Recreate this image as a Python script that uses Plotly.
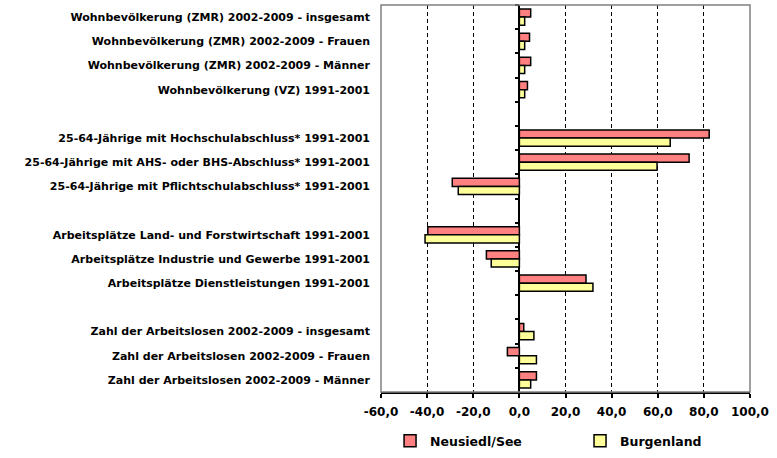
import plotly.graph_objects as go

categories = [
    "Wohnbevölkerung (ZMR) 2002-2009 - insgesamt",
    "Wohnbevölkerung (ZMR) 2002-2009 - Frauen",
    "Wohnbevölkerung (ZMR) 2002-2009 - Männer",
    "Wohnbevölkerung (VZ) 1991-2001",
    " ",
    "25-64-Jährige mit Hochschulabschluss* 1991-2001",
    "25-64-Jährige mit AHS- oder BHS-Abschluss* 1991-2001",
    "25-64-Jährige mit Pflichtschulabschluss* 1991-2001",
    "  ",
    "Arbeitsplätze Land- und Forstwirtschaft 1991-2001",
    "Arbeitsplätze Industrie und Gewerbe 1991-2001",
    "Arbeitsplätze Dienstleistungen 1991-2001",
    "   ",
    "Zahl der Arbeitslosen 2002-2009 - insgesamt",
    "Zahl der Arbeitslosen 2002-2009 - Frauen",
    "Zahl der Arbeitslosen 2002-2009 - Männer",
]
neusiedl = [4.9, 4.4, 4.9, 3.5, None, 82.3, 73.6, -29.1, None,
            -39.7, -14.3, 28.9, None, 1.9, -5.2, 7.4]
burgenland = [2.3, 2.3, 2.3, 2.3, None, 65.4, 59.7, -26.5, None,
              -40.9, -12.2, 31.9, None, 6.3, 7.4, 4.9]
x_ticks = [-60, -40, -20, 0, 20, 40, 60, 80, 100]
x_labels = [f"{v:.1f}".replace(".", ",") for v in x_ticks]

fig = go.Figure()
fig.add_trace(go.Bar(y=categories, x=neusiedl, orientation="h", name="Neusiedl/See",
                     legend="legend",
                     marker=dict(color="#FF8080", line=dict(color="black", width=1.5))))
fig.add_trace(go.Bar(y=categories, x=burgenland, orientation="h", name="Burgenland",
                     legend="legend2",
                     marker=dict(color="#FFFF99", line=dict(color="black", width=1.5))))
# helper trace so the tick axis at zero knows the categories
fig.add_trace(go.Scatter(y=categories, x=[0] * len(categories), mode="none", yaxis="y2",
                         showlegend=False, hoverinfo="skip"))

legend_style = dict(orientation="h", xref="container", yref="container",
                    xanchor="left", y=0.037, yanchor="middle",
                    font=dict(size=12.5, weight="bold"), itemwidth=30)
y_range = [len(categories) - 0.5, -0.5]

fig.update_layout(
    width=777, height=458,
    margin=dict(l=381, r=27, t=5, b=66),
    paper_bgcolor="white", plot_bgcolor="white",
    barmode="group", bargap=0.33, bargroupgap=0,
    font=dict(family="DejaVu Sans", size=11, color="black", weight="bold"),
    xaxis=dict(range=[-60, 100], tickvals=x_ticks, ticktext=x_labels, automargin=False,
               showgrid=True, gridcolor="black", griddash="4px,3px", gridwidth=1,
               zeroline=True, zerolinecolor="black", zerolinewidth=1.5,
               showline=True, linecolor="black", linewidth=1.5,
               ticks="outside", ticklen=4, tickcolor="black", tickwidth=1.5,
               ticklabelstandoff=4, tickfont=dict(size=12, weight="bold")),
    yaxis=dict(type="category", range=y_range, autorange=False, showgrid=False,
               zeroline=False, automargin=False, ticks="", ticklabelstandoff=10,
               tickfont=dict(size=11, weight="bold")),
    yaxis2=dict(type="category", overlaying="y", matches="y", anchor="free",
                position=0.375, side="left", showticklabels=False, showgrid=False,
                automargin=False, ticks="outside", tickson="boundaries", ticklen=4,
                tickcolor="black", tickwidth=1.5, showline=False),
    legend=dict(legend_style, x=0.502),
    legend2=dict(legend_style, x=0.7465),
    shapes=[dict(type="rect", xref="paper", yref="paper", x0=0, x1=1, y0=0, y1=1,
                 line=dict(color="#808080", width=1.5), layer="above")],
)

fig.write_html("out.html", config={"displayModeBar": False},
               post_script="document.body.style.margin='0';")
